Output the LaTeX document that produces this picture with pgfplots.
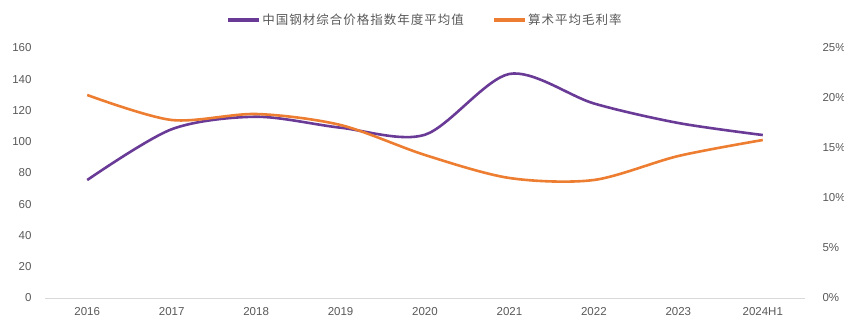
\documentclass[border=0pt]{standalone}
\usepackage{pgfplots}
\pgfplotsset{compat=1.18}
\usepackage{fontspec}
\setmainfont{Liberation Sans}
\newfontfamily\cjk[LetterSpace=8]{Noto Sans CJK SC}
\definecolor{pur}{HTML}{6A3A97}
\definecolor{org}{HTML}{ED7D31}
\definecolor{txt}{HTML}{595959}
\definecolor{base}{HTML}{D9D9D9}
\begin{document}
\begin{tikzpicture}[x=1pt,y=1pt]
\useasboundingbox (0,0) rectangle (844,325);
\begin{axis}[
  at={(45pt,27pt)}, anchor=south west,
  scale only axis, width=760pt, height=250pt,
  xmin=-0.5, xmax=8.5, ymin=0, ymax=160,
  xtick={0,...,8},
  xticklabels={2016,2017,2018,2019,2020,2021,2022,2023,2024H1},
  ytick={0,20,...,160},
  axis y line*=left, axis x line*=bottom,
  y axis line style={draw=none},
  x axis line style={draw=base, line width=0.8pt, -},
  major tick length=0pt,
  tick label style={font=\fontsize{11.5}{13}\selectfont, text=txt},
  /pgf/number format/assume math mode=true,
  yticklabel style={xshift=-10pt},
  xticklabel style={yshift=-6pt},
  legend style={draw=none, fill=none, at={(0.5,1.112)}, anchor=center,
    legend columns=2, font=\cjk\fontsize{12.5}{14}\selectfont, text=txt,
    /tikz/every even column/.append style={column sep=26pt}},
  legend image code/.code={\draw[#1, line width=3.2pt] (0pt,0pt) -- (31pt,0pt);},
]
\addplot[pur, line width=2.6pt, smooth, tension=0.5] coordinates {
(0,75.5) (1,108) (2,116) (3,109) (4,104.5) (5,143.4) (6,124.5) (7,112) (8,104.3)};
\addlegendentry{中国钢材综合价格指数年度平均值}
\addlegendimage{org, line width=3.2pt}
\addlegendentry{算术平均毛利率}
\end{axis}
\begin{axis}[
  at={(45pt,27pt)}, anchor=south west,
  scale only axis, width=760pt, height=250pt,
  xmin=-0.5, xmax=8.5, ymin=0, ymax=25,
  axis x line=none,
  axis y line*=right,
  y axis line style={draw=none},
  ytick={0,5,...,25},
  major tick length=0pt,
  tick label style={font=\fontsize{11.5}{13}\selectfont, text=txt},
  /pgf/number format/assume math mode=true,
  yticklabel={\pgfmathprintnumber{\tick}\%},
  yticklabel style={anchor=west, xshift=14pt},
]
\addplot[org, line width=2.6pt, smooth, tension=0.5] coordinates {
(0,20.3) (1,17.8) (2,18.4) (3,17.3) (4,14.3) (5,12.0) (6,11.8) (7,14.2) (8,15.8)};
\end{axis}
\end{tikzpicture}
\end{document}
